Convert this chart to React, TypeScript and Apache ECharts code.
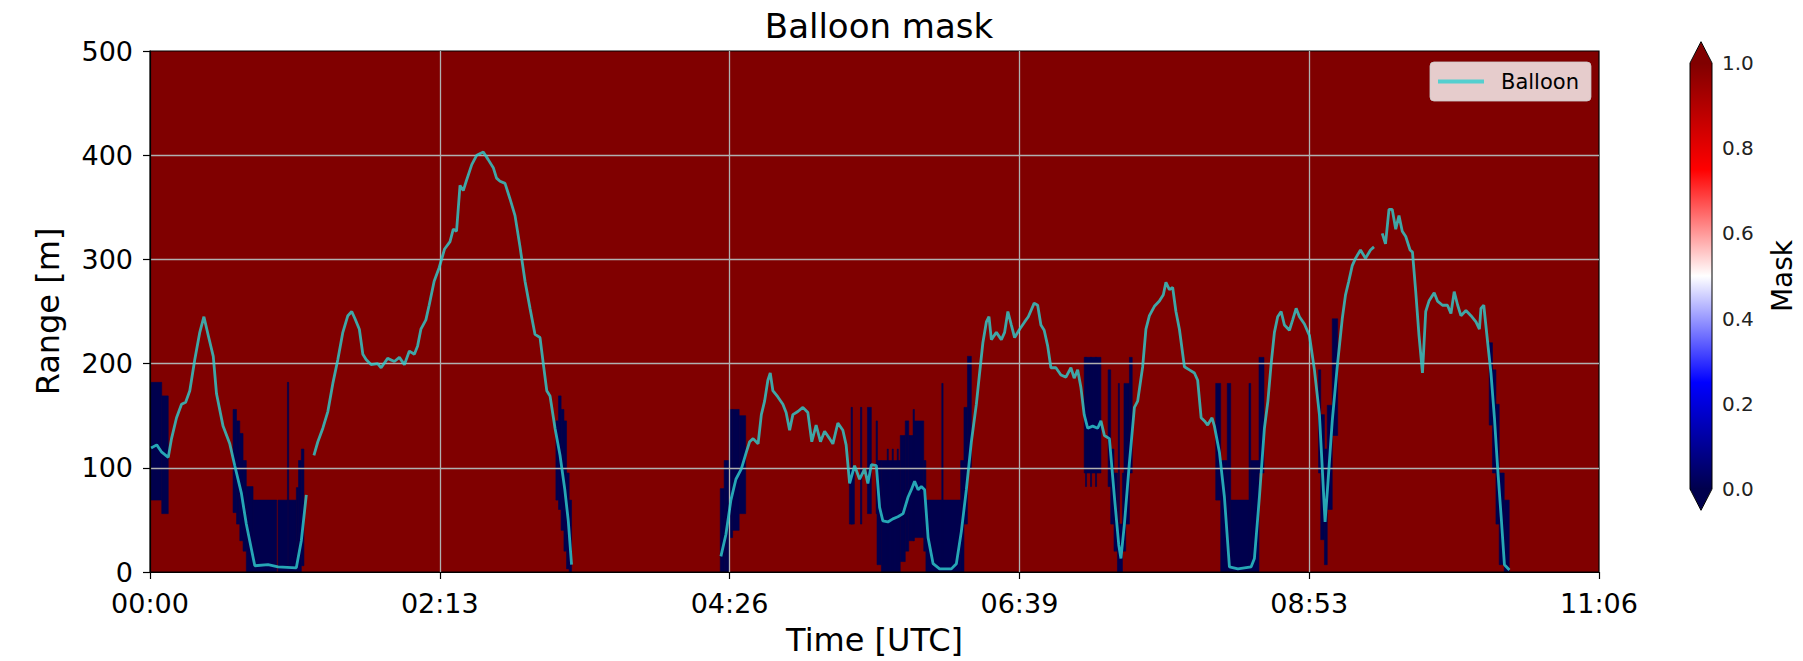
import React, { useEffect, useRef } from "react";
import * as echarts from "echarts";

// ---------- axes ----------
const T_MAX = 666.5; // minutes after 00:00 UTC
const T_TICK = 133.3;
const RANGE_MAX = 500;
const RANGE_TICK = 100;
const CBAR_MIN = 0;
const CBAR_MAX = 1;
const CBAR_TICK = 0.2;

// ---------- balloon trajectory (minutes, metres); null = no data ----------
const BALLOON_T = [
  0.5, 3.1, 5.4, 8.4, 9.9, 12.2, 14.5, 16.4, 18.3, 20.6, 22.9, 24.8, 26.8, 29.1, 30.6, 33.6, 36.7, 39, 42, 44.3,
  48.2, 54.3, 58.9, 67.3, 69.6, 71.9, 73.5,
  75.4, 77.2, 79.5, 81.8, 84.1, 86.4, 88.7, 91, 92.8, 94.3, 96.3, 97.9, 99.4, 101.7, 104.7, 106.3, 109.3, 112.4,
  114.7, 117, 119.3, 121.6, 123.1, 124.6, 126.9, 128.4, 130.7, 133, 135.5, 138, 139.5, 141, 142.6, 144.1, 145.6,
  148, 150.3, 153.3, 155.5, 157.9, 159.4, 161, 163.3, 165.6, 167.9, 170.2, 172.5, 174.8, 177.1, 179.4, 180.9,
  182.5, 184, 186.3, 188.6, 190.8, 192.4, 193.9, 228,
  262.6, 264.9, 267.2, 269.5, 272, 274.3, 275.8, 277.4, 279.7, 281.2, 282.7, 284.2, 285.3, 286.5, 288.8, 291.1,
  292.6, 294.2, 295.7, 298, 300.3, 302.6, 304.4, 306.4, 308.4, 310.3, 312.6, 314.1, 316.4, 318.7, 320.2, 321.8,
  324.1, 326.4, 328.7, 330.2, 331.8, 334.1, 335.6, 337.1, 339.4, 341.7, 344, 346.4, 348.7, 350.2, 351.7, 353.3,
  354.8, 356.3, 357.9, 360.2, 363.2, 368.6, 370.9, 373.2, 375.5, 377.8, 380.1, 381.6, 383.1, 384.7, 385.9, 387,
  389.3, 391.6, 393.1, 394.6, 396.2, 397.7, 400, 402.3, 404, 406.7, 408.3, 409.8, 411.3, 412.9, 414.4, 416.7,
  419, 421.3, 423.6, 425.1, 426.7, 428.2, 429.7, 431.3, 433.6, 435.9, 437.4, 439, 441.3, 443.6, 445.6, 446.6,
  448.2, 450.5, 452.8, 454.3, 456.6, 458.1, 459.7, 462, 464.3, 466.1, 467.3, 468.9, 470.4, 471.9, 473.5, 475.8,
  478.1, 480.4, 481.9, 483.5, 485, 486.5, 488.5, 489.6, 491.9, 494.2, 496.5, 500.4, 506.5, 508, 510.3, 512.6,
  514.2, 515.7, 517.2, 518.7, 520.3, 521.8, 524.1, 525.6, 527.2, 528.7, 531, 533.3, 535.6, 537.9, 539.2, 540.5,
  541.8, 543.8, 546.1, 548.4, 549.9, 551.4, 553, 554.5, 556.8, 559.1, 561.4, 563, 564.5,
  566.8, 568.3, 569.9, 571.4, 573, 574.5, 576, 577.6, 579.6, 580.7, 582.2, 583.7, 585.3, 586.8, 588.3, 590.7,
  592.2, 594.5, 596.8, 598.4, 599.9, 601.5, 603, 605.3, 607.6, 609.9, 611.5, 612.2, 613.5, 615.3, 616.8, 618.4,
  619.9, 621.5, 623, 625.3,
];
const BALLOON_R: (number | null)[] = [
  119, 122, 115, 110, 128, 148, 161, 163, 174, 204, 230, 245, 227, 207, 171, 140, 123, 102, 76, 46,
  6, 7, 5, 4, 30, 74, null,
  112, 125, 138, 154, 181, 204, 230, 246, 250, 243, 233, 209, 204, 199, 200, 196, 205, 202,
  206, 199, 212, 209, 217, 233, 242, 256, 279, 292, 310, 317, 329, 327, 371, 366, 376,
  391, 400, 403, 396, 388, 378, 375, 373, 358, 342, 312, 279, 253, 228, 225, 200,
  174, 169, 138, 112, 79, 49, 7, null,
  15, 36, 69, 89, 99, 115, 125, 128, 123, 151, 164, 184, 191, 174, 168, 161,
  153, 136, 151, 154, 158, 153, 125, 141, 125, 135, 128, 123, 143, 136, 122, 85,
  102, 89, 99, 85, 103, 102, 62, 49, 48, 51, 53, 56, 72, 79, 87, 79,
  82, 79, 33, 8, 3, 3, 8, 39, 79, 125, 161, 191, 220, 240, 245, 223,
  230, 223, 230, 250, 237, 225, 233, 240, 245, 258, 256, 237, 232, 217, 196, 196,
  189, 187, 196, 186, 194, 177, 151, 138, 140, 138, 145, 131, 128, 72, 26, 13,
  46, 105, 158, 164, 197, 233, 246, 255, 260, 266, 278, 271, 273, 250, 233, 197,
  194, 191, 184, 148, 145, 141, 148, 140, 115, 72, 5, 3, 5, 13, 72, 138,
  164, 200, 230, 245, 250, 237, 232, 242, 253, 245, 238, 227, 194, 151, 100, 48,
  85, 145, 197, 243, 266, 279, 294, 301, 309, 301, 309, 312, null,
  325, 315, 348, 348, 329, 342, 327, 322, 309, 307, 269, 227, 191, 250, 260, 268,
  260, 256, 256, 248, 269, 256, 246, 251, 246, 240, 233, 253, 256, 220, 191, 148,
  99, 53, 7, 2,
];

// ---------- mask cells: [t start, t end, range low, range high, mask value] ----------
const MASK_CELLS: [number, number, number, number, number][] = [
  [0, T_MAX, 0, RANGE_MAX, 1],
  // 00:00 - 01:15
  [0, 5.4, 69, 182, 0], [5.4, 8.4, 56, 169, 0],
  [38.2, 39.8, 57, 156, 0], [39.8, 41.3, 46, 145, 0], [41.3, 42.8, 30, 133, 0], [42.8, 44.3, 20, 107, 0],
  [44.3, 47.4, 0, 82, 0], [47.4, 58.3, 0, 69, 0], [58.9, 63.2, 0, 69, 0], [63.2, 63.8, 0, 182, 0],
  [63.8, 67.3, 0, 69, 0], [67.3, 68.3, 0, 81, 0], [68.3, 69.6, 0, 107, 0], [69.6, 70.8, 6, 118, 0],
  // ~03:10
  [186.7, 187.9, 69, 145, 0], [187.9, 189.1, 60, 169, 0], [189.1, 190.4, 40, 156, 0],
  [190.4, 191.6, 20, 145, 0], [191.6, 192.8, 3, 95, 0], [192.8, 193.9, 0, 69, 0],
  // ~04:25
  [262.3, 264.1, 0, 80, 0], [264.1, 266.4, 0, 107, 0], [266.4, 268, 33, 156, 0], [268, 271, 40, 156, 0],
  [271, 274, 56, 150, 0],
  // 05:20 - 06:20
  [321.7, 324.0, 46, 99, 0], [322.5, 323.1, 46, 158, 0], [326.8, 327.4, 46, 158, 0], [330.0, 331.8, 56, 158, 0],
  [334.0, 334.6, 56, 145, 0], [334.4, 336.4, 7, 107, 0], [336.4, 345.1, 0, 107, 0], [339.1, 339.6, 0, 118, 0],
  [341.4, 341.9, 0, 118, 0], [343.7, 344.2, 0, 118, 0], [345.1, 347.4, 10, 131, 0], [347.4, 349, 20, 145, 0],
  [349, 351.3, 30, 131, 0], [351.0, 351.6, 30, 156, 0], [351.3, 355.9, 33, 145, 0], [355.9, 356.9, 20, 107, 0],
  [356.9, 372.9, 0, 69, 0], [364.2, 364.8, 0, 181, 0], [372.9, 374.4, 0, 107, 0], [374.4, 376.0, 46, 158, 0],
  [376.0, 377.8, 99, 207, 0],
  // 07:10 - 07:32
  [429.7, 437.4, 95, 206, 0], [430.3, 430.8, 82, 206, 0], [432.6, 433.1, 82, 206, 0], [434.9, 435.4, 82, 206, 0],
  [440.7, 441.9, 82, 194, 0], [441.9, 443.4, 46, 118, 0], [443.4, 445.0, 20, 95, 0], [445.0, 447.3, 0, 46, 0],
  [445.4, 445.9, 0, 181, 0], [447.3, 448.8, 20, 95, 0], [448.0, 450.5, 46, 181, 0], [450.5, 451.8, 95, 206, 0],
  // 08:10 - 08:32
  [490.2, 492.5, 69, 181, 0], [492.5, 495.5, 0, 107, 0], [495.5, 497.1, 0, 181, 0], [497.1, 505.5, 0, 69, 0],
  [505.5, 506.3, 0, 181, 0], [506.3, 510.1, 0, 107, 0], [510.1, 512.4, 95, 206, 0],
  // ~09:00
  [537.5, 538.5, 95, 194, 0], [538.5, 540.2, 31, 151, 0], [540.2, 541.5, 7, 118, 0], [541.5, 543.8, 60, 160, 0],
  [543.8, 546.3, 131, 243, 0],
  // ~10:20
  [616.0, 617.5, 141, 220, 0], [617.5, 619.1, 95, 194, 0], [619.1, 620.6, 46, 161, 0], [620.6, 622.9, 7, 95, 0],
  [622.9, 625.2, 0, 69, 0],
];

// seismic colour map
const SEISMIC: [number, string][] = [
  [0, "#00004d"],
  [0.25, "#0000ff"],
  [0.5, "#ffffff"],
  [0.75, "#ff0000"],
  [1, "#800000"],
];

function hexToRgb(h: string) {
  const n = parseInt(h.slice(1), 16);
  return [(n >> 16) & 255, (n >> 8) & 255, n & 255];
}
function cmap(v: number) {
  const x = Math.max(0, Math.min(1, (v - CBAR_MIN) / (CBAR_MAX - CBAR_MIN)));
  for (let i = 1; i < SEISMIC.length; i++) {
    if (x <= SEISMIC[i][0]) {
      const [a, ca] = SEISMIC[i - 1];
      const [b, cb] = SEISMIC[i];
      const f = (x - a) / (b - a);
      const p = hexToRgb(ca);
      const q = hexToRgb(cb);
      const r = p.map((c, k) => Math.round(c + (q[k] - c) * f));
      return `rgb(${r[0]},${r[1]},${r[2]})`;
    }
  }
  return SEISMIC[SEISMIC.length - 1][1];
}

const FONT = "DejaVu Sans";
const LINE_COLOR = "#30d0d0";

function fmtTime(v: number) {
  const m = Math.floor(v + 1e-6);
  const hh = Math.floor(m / 60);
  const mm = m % 60;
  return `${String(hh).padStart(2, "0")}:${String(mm).padStart(2, "0")}`;
}

export default function App() {
  const ref = useRef<HTMLDivElement>(null);
  useEffect(() => {
    if (!ref.current) return;
    const chart = echarts.init(ref.current, undefined, { renderer: "svg" });
    const lineData = BALLOON_T.map((t, i) => [t, BALLOON_R[i] === null ? "-" : BALLOON_R[i]]);
    const gradientStops = SEISMIC.map(([o, c]) => ({ offset: 1 - o, color: c })).reverse();

    chart.setOption({
      animation: false,
      textStyle: { fontFamily: FONT },
      title: {
        text: "Balloon mask",
        left: 874,
        textAlign: "center",
        top: 4,
        textStyle: { fontFamily: FONT, fontSize: 34, fontWeight: "normal", color: "#000" },
      },
      legend: {
        data: ["Balloon"],
        left: 1430,
        top: 62,
        padding: [9, 12, 9, 8],
        itemWidth: 46,
        itemHeight: 4,
        icon: "rect",
        backgroundColor: "rgba(255,255,255,0.8)",
        borderColor: "rgba(204,204,204,0.8)",
        borderWidth: 1,
        borderRadius: 4,
        itemStyle: { opacity: 0.8 },
        textStyle: { fontFamily: FONT, fontSize: 21, color: "#000", padding: [0, 0, 0, 12] },
      },
      grid: [
        {
          left: 150,
          top: 51,
          width: 1449,
          height: 521,
          show: true,
          borderColor: "#000",
          borderWidth: 1.2,
          backgroundColor: "transparent",
          containLabel: false,
        },
        { left: 1690, top: 63, width: 22, height: 426, containLabel: false },
      ],
      xAxis: [
        {
          type: "value",
          gridIndex: 0,
          min: 0,
          max: T_MAX,
          interval: T_TICK,
          name: "Time [UTC]",
          nameLocation: "middle",
          nameGap: 52,
          nameTextStyle: { fontFamily: FONT, fontSize: 32, color: "#000" },
          axisLine: { show: true, lineStyle: { color: "#000", width: 1.2 } },
          axisTick: { show: true, length: 7, lineStyle: { color: "#000", width: 1.2 } },
          axisLabel: { formatter: fmtTime, fontSize: 27, lineHeight: 22, color: "#000", margin: 20, fontFamily: FONT },
          splitLine: { show: true, showMinLine: false, showMaxLine: false, lineStyle: { color: "#b0b0b0", width: 1.3 } },
        },
        { type: "value", gridIndex: 1, min: 0, max: 1, show: false },
      ],
      yAxis: [
        {
          type: "value",
          gridIndex: 0,
          min: 0,
          max: RANGE_MAX,
          interval: RANGE_TICK,
          name: "Range [m]",
          nameLocation: "middle",
          nameGap: 86,
          nameTextStyle: { fontFamily: FONT, fontSize: 32, color: "#000" },
          axisLine: { show: true, lineStyle: { color: "#000", width: 1.2 } },
          axisTick: { show: true, length: 7, lineStyle: { color: "#000", width: 1.2 } },
          axisLabel: { fontSize: 27, lineHeight: 22, color: "#000", margin: 17, fontFamily: FONT },
          splitLine: { show: true, showMinLine: false, showMaxLine: false, lineStyle: { color: "#b0b0b0", width: 1.3 } },
        },
        {
          type: "value",
          gridIndex: 1,
          min: CBAR_MIN,
          max: CBAR_MAX,
          interval: CBAR_TICK,
          position: "right",
          name: "Mask",
          nameLocation: "middle",
          nameGap: 56,
          nameRotate: 90,
          nameTextStyle: { fontFamily: FONT, fontSize: 28, color: "#000" },
          axisLine: { show: false },
          axisTick: { show: true, length: 7, lineStyle: { color: "#000", width: 1.2 } },
          axisLabel: { fontSize: 20, color: "#222", margin: 10, fontFamily: FONT, formatter: (v: number) => v.toFixed(1) },
          splitLine: { show: false },
        },
      ],
      series: [
        {
          type: "custom",
          name: "mask",
          xAxisIndex: 0,
          yAxisIndex: 0,
          z: -1,
          clip: true,
          silent: true,
          encode: { x: [0, 1], y: [2, 3] },
          data: MASK_CELLS,
          renderItem: (params: any, api: any) => {
            const t0 = api.value(0);
            const t1 = api.value(1);
            const lo = api.value(2);
            const hi = api.value(3);
            const v = api.value(4);
            const p0 = api.coord([t0, hi]);
            const p1 = api.coord([t1, lo]);
            const c = cmap(v);
            return {
              type: "rect",
              shape: { x: p0[0], y: p0[1], width: p1[0] - p0[0], height: p1[1] - p0[1] },
              style: v < 1 ? { fill: c, stroke: c, lineWidth: 0.6 } : { fill: c },
            };
          },
        },
        {
          type: "line",
          name: "Balloon",
          xAxisIndex: 0,
          yAxisIndex: 0,
          data: lineData,
          showSymbol: false,
          symbol: "none",
          connectNulls: false,
          color: LINE_COLOR,
          lineStyle: { color: LINE_COLOR, width: 2.8, opacity: 0.8 },
          z: 3,
        },
        {
          type: "custom",
          name: "colorbar",
          xAxisIndex: 1,
          yAxisIndex: 1,
          clip: false,
          silent: true,
          data: [[0.5, 0.5]],
          renderItem: (params: any, api: any) => {
            const tl = api.coord([0, CBAR_MAX]);
            const br = api.coord([1, CBAR_MIN]);
            const x0 = tl[0], y0 = tl[1], x1 = br[0], y1 = br[1];
            const ext = (y1 - y0) * 0.05;
            const xm = (x0 + x1) / 2;
            return {
              type: "group",
              children: [
                {
                  type: "rect",
                  shape: { x: x0, y: y0, width: x1 - x0, height: y1 - y0 },
                  style: {
                    fill: { type: "linear", x: 0, y: 0, x2: 0, y2: 1, colorStops: gradientStops },
                  },
                },
                { type: "polygon", shape: { points: [[x0, y0 + 0.5], [x1, y0 + 0.5], [xm, y0 - ext]] }, style: { fill: cmap(CBAR_MAX) } },
                { type: "polygon", shape: { points: [[x0, y1 - 0.5], [x1, y1 - 0.5], [xm, y1 + ext]] }, style: { fill: cmap(CBAR_MIN) } },
                {
                  type: "polygon",
                  shape: { points: [[x0, y0], [xm, y0 - ext], [x1, y0], [x1, y1], [xm, y1 + ext], [x0, y1]] },
                  style: { fill: "none", stroke: "#000", lineWidth: 1 },
                },
              ],
            };
          },
        },
      ],
    });
    return () => chart.dispose();
  }, []);
  return (
    <div
      ref={ref}
      style={{ position: "absolute", left: 0, top: 0, width: 1803, height: 661, background: "#fff" }}
    />
  );
}
